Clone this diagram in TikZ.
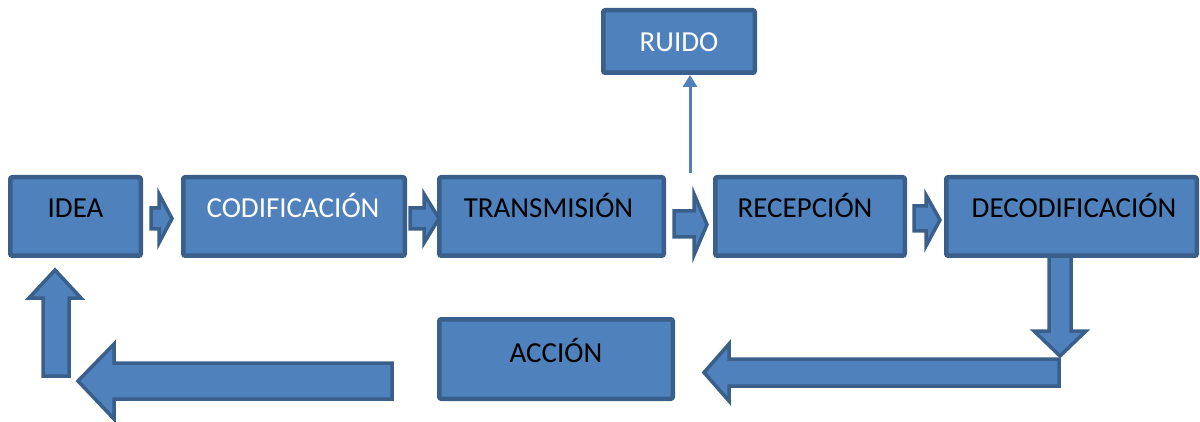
\documentclass[tikz,border=0pt]{standalone}
\usepackage{fontspec}
\setmainfont{Carlito}
\usetikzlibrary{arrows.meta}
\definecolor{boxfill}{HTML}{4F81BD}
\definecolor{boxline}{HTML}{3A5F8B}
\tikzset{
  box/.style={draw=boxline, fill=boxfill, line width=4.5pt, rounded corners=2pt, inner sep=0pt},
  blockarrow/.style={draw=boxline, fill=boxfill, line width=3.5pt, line join=miter},
  lbl/.style={anchor=base, inner sep=0pt, font=\fontsize{29}{34}\selectfont},
  noise/.style={draw=boxfill, line width=3pt, -{Triangle[length=12pt,width=14pt]}}
}
\newcommand{\bx}[5]{\node[box, minimum width=#3pt-4.5pt, minimum height=#4pt-4.5pt] (#5) at (#1,#2) {};}
\begin{document}
\begin{tikzpicture}[x=1pt,y=-1pt]
\useasboundingbox (0,0) rectangle (1200,422);
% block arrows (drawn first)
\path[blockarrow] (151,208) -- (159,208) -- (159,194) -- (172,218.5) -- (159,243) -- (159,229) -- (151,229) -- cycle;
\path[blockarrow] (410,208) -- (424,208) -- (424,194) -- (439,218.5) -- (424,243) -- (424,229) -- (410,229) -- cycle;
\path[blockarrow] (674,211) -- (694,211) -- (694,194) -- (707,224.5) -- (694,255) -- (694,237) -- (674,237) -- cycle;
\path[blockarrow] (914,206) -- (926,206) -- (926,195) -- (940,220) -- (926,246) -- (926,231) -- (914,231) -- cycle;
% down arrow from DECODIFICACION
\path[blockarrow] (1049,255) -- (1071,255) -- (1071,331) -- (1086,331) -- (1060,356) -- (1034,331) -- (1049,331) -- cycle;
% long left arrow (right half)
\path[blockarrow] (1059,359) -- (1059,386) -- (729,386) -- (729,401) -- (704,372.5) -- (729,344) -- (729,359) -- cycle;
% long left arrow (left half)
\path[blockarrow] (392,363) -- (392,399) -- (114,399) -- (114,419) -- (78,381) -- (114,344) -- (114,363) -- cycle;
% up arrow to IDEA
\path[blockarrow] (43,376) -- (43,298) -- (29,298) -- (55,270) -- (81,298) -- (69,298) -- (69,376) -- cycle;
% boxes
\bx{75.5}{216.5}{135}{83}{idea}
\bx{294}{216.5}{226}{83}{cod}
\bx{551.5}{216.5}{229}{83}{trans}
\bx{810}{216.5}{194}{83}{rec}
\bx{1071.5}{216.5}{255}{83}{dec}
\bx{679}{41.5}{156}{67}{ruido}
\bx{556}{359}{238}{84}{accion}
% labels
\node[lbl] (idea-t) at (75.5,218) {IDEA};
\node[lbl, text=white] (cod-t) at (293,218) {CODIFICACIÓN};
\node[lbl] (trans-t) at (548.5,218) {TRANSMISIÓN};
\node[lbl] (rec-t) at (805,218) {RECEPCIÓN};
\node[lbl] (dec-t) at (1074,218) {DECODIFICACIÓN};
\node[lbl, text=white] (ruido-t) at (679,52) {RUIDO};
\node[lbl] (accion-t) at (556,362) {ACCIÓN};
% noise connector
\coordinate (nstart) at (690,173);
\draw[noise] (nstart) -- (nstart |- ruido.south);
\end{tikzpicture}
\end{document}
